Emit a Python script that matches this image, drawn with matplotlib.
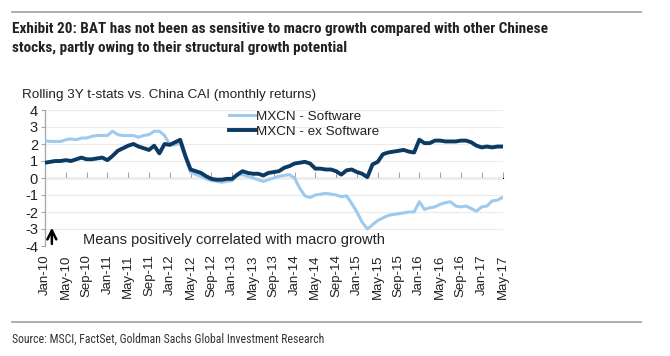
import numpy as np
import matplotlib
matplotlib.use("Agg")
import matplotlib.pyplot as plt
from matplotlib.lines import Line2D
from matplotlib import font_manager

# monthly readings, Jan-10 .. May-17 (89 points)
software = [2.2, 2.15, 2.15, 2.15, 2.25, 2.3, 2.25, 2.35, 2.35, 2.45,
            2.5, 2.5, 2.5, 2.75, 2.55, 2.5, 2.5, 2.5, 2.4, 2.5,
            2.55, 2.75, 2.75, 2.5, 1.95, 1.95, 2.05, 1.2, 0.35, 0.2,
            0.1, -0.05, -0.15, -0.2, -0.25, -0.2, -0.15, 0.15, 0.2, 0.1,
            0.0, -0.1, -0.2, -0.1, 0.0, 0.1, 0.15, 0.2, 0.0, -0.6,
            -1.05, -1.15, -1.0, -0.95, -0.9, -0.95, -1.0, -1.1, -1.05, -1.5,
            -2.0, -2.6, -3.0, -2.75, -2.5, -2.35, -2.2, -2.15, -2.1, -2.05,
            -2.0, -2.0, -1.4, -1.85, -1.75, -1.7, -1.55, -1.45, -1.4, -1.65,
            -1.7, -1.65, -1.8, -1.95, -1.7, -1.65, -1.35, -1.3, -1.15]
ex_software = [0.9, 0.95, 1.0, 1.0, 1.05, 1.0, 1.1, 1.2, 1.1, 1.1,
               1.15, 1.2, 1.05, 1.3, 1.6, 1.75, 1.9, 2.0, 1.85, 1.75,
               1.65, 1.9, 1.45, 2.0, 1.95, 2.1, 2.25, 1.3, 0.5, 0.4,
               0.3, 0.1, -0.05, -0.1, -0.1, -0.05, -0.05, 0.2, 0.4, 0.3,
               0.25, 0.25, 0.15, 0.3, 0.35, 0.4, 0.6, 0.7, 0.85, 0.9,
               0.95, 0.85, 0.55, 0.55, 0.5, 0.5, 0.4, 0.2, 0.45, 0.5,
               0.35, 0.25, 0.05, 0.8, 0.95, 1.4, 1.5, 1.55, 1.6, 1.65,
               1.55, 1.5, 2.25, 2.05, 2.05, 2.2, 2.2, 2.15, 2.15, 2.15,
               2.2, 2.2, 2.1, 1.9, 1.8, 1.85, 1.8, 1.85, 1.85]
tick_labels = ['Jan-10', 'May-10', 'Sep-10', 'Jan-11', 'May-11', 'Sep-11',
               'Jan-12', 'May-12', 'Sep-12', 'Jan-13', 'May-13', 'Sep-13',
               'Jan-14', 'May-14', 'Sep-14', 'Jan-15', 'May-15', 'Sep-15',
               'Jan-16', 'May-16', 'Sep-16', 'Jan-17', 'May-17']
y_ticks = [-4, -3, -2, -1, 0, 1, 2, 3, 4]

light = '#9DCAEE'
dark = '#0C3A62'
axis_grey = '#A6A6A6'
plt.rcParams['font.family'] = ['Liberation Sans', 'DejaVu Sans']

# condensed face for the header / footer if one is installed
names = {f.name for f in font_manager.fontManager.ttflist}
narrow = [n for n in ['Liberation Sans Narrow', 'Roboto Condensed', 'Open Sans Condensed',
                      'DejaVu Sans Condensed'] if n in names] + ['DejaVu Sans']

fig = plt.figure(figsize=(6.7, 3.56), dpi=100)
ax = fig.add_axes([45 / 670, 1 - 246 / 356, 457.5 / 670, 136 / 356])

x = np.arange(len(software))
ax.plot(x, software, color=light, lw=2.2, solid_joinstyle='round',
        label='MXCN - Software', zorder=3)
ax.plot(x, ex_software, color=dark, lw=2.8, solid_joinstyle='round',
        label='MXCN - ex Software', zorder=4)

ax.set_xlim(0, len(software) - 1)
ax.set_ylim(-4, 4)
ax.set_yticks(y_ticks)
ax.set_yticklabels([str(v) for v in y_ticks], fontsize=10.5, color='#222222')
ax.tick_params(axis='y', length=3, width=0.8, color=axis_grey, pad=2)
ax.grid(axis='y', color='#EBEBEB', lw=0.8)
ax.set_axisbelow(True)

pos = np.arange(0, len(software), 4)
ax.set_xticks(pos)
ax.set_xticklabels(tick_labels, rotation=90, fontsize=9.5, color='#222222')
ax.tick_params(axis='x', length=0, pad=6)

for s in ['top', 'right', 'bottom']:
    ax.spines[s].set_visible(False)
ax.spines['left'].set_color(axis_grey)
ax.spines['left'].set_linewidth(0.9)

# zero line with tick marks
sec = ax.secondary_xaxis(0.5)
sec.set_xticks(pos[1:])
sec.set_xticklabels([])
sec.tick_params(axis='x', length=4, width=0.8, color=axis_grey, direction='out')
sec.spines['bottom'].set_color(axis_grey)
sec.spines['bottom'].set_linewidth(1.2)

leg = ax.legend(loc='upper left', bbox_to_anchor=(0.39, 1.035), frameon=False,
                fontsize=9.7, handlelength=2.0, handletextpad=0.05,
                labelspacing=0.15, borderaxespad=0)
for t in leg.get_texts():
    t.set_color('#222222')

ax.annotate('', xy=(0.015, 0.155), xytext=(0.015, -0.005), xycoords='axes fraction',
            arrowprops=dict(arrowstyle='->', color='black', lw=1.8,
                            mutation_scale=16))
ax.text(0.082, 0.045, 'Means positively correlated with macro growth',
        transform=ax.transAxes, fontsize=10.5, color='#222222', va='center')

fig.text(22 / 670, 1 - 95 / 356, 'Rolling 3Y t-stats vs. China CAI (monthly returns)',
         fontsize=9.7, color='#222222', va='center')

title_kw = dict(fontsize=11, fontweight='bold', family=narrow, fontstretch='condensed',
                color='#222222', va='center')
fig.text(12 / 670, 1 - 29 / 356,
         'Exhibit 20: BAT has not been as sensitive to macro growth compared with other Chinese',
         **title_kw)
fig.text(12 / 670, 1 - 48 / 356,
         'stocks, partly owing to their structural growth potential', **title_kw)
fig.text(12 / 670, 1 - 339 / 356,
         'Source: MSCI, FactSet, Goldman Sachs Global Investment Research',
         fontsize=8.5, family=narrow, fontstretch='condensed', color='#333333', va='center')

for yy in [12, 322]:
    fig.add_artist(Line2D([12 / 670, 641 / 670], [1 - yy / 356, 1 - yy / 356],
                          color='#A8A8A8', lw=1.3))

fig.savefig('out.png', dpi=100)
